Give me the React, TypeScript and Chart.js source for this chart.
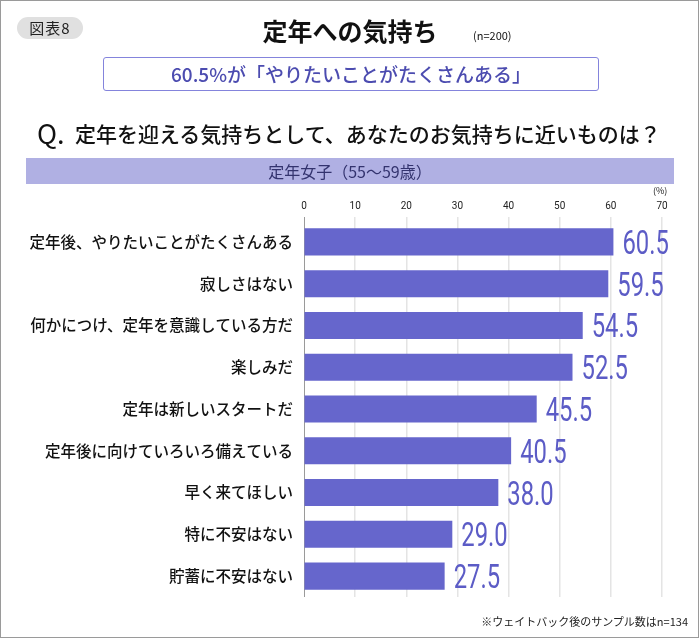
import React, { useEffect, useRef } from "react";
import { Chart, registerables } from "chart.js";

Chart.register(...registerables);

const categories = [
  "定年後、やりたいことがたくさんある",
  "寂しさはない",
  "何かにつけ、定年を意識している方だ",
  "楽しみだ",
  "定年は新しいスタートだ",
  "定年後に向けていろいろ備えている",
  "早く来てほしい",
  "特に不安はない",
  "貯蓄に不安はない",
];
const values = [60.5, 59.5, 54.5, 52.5, 45.5, 40.5, 38.0, 29.0, 27.5];
const xTicks = [0, 10, 20, 30, 40, 50, 60, 70];

const title = "定年への気持ち";
const sampleNote = "(n=200)";
const figLabel = "図表8";
const highlight = "60.5%が「やりたいことがたくさんある」";
const question = "定年を迎える気持ちとして、あなたのお気持ちに近いものは？";
const bandLabel = "定年女子（55～59歳）";
const unitLabel = "(%)";
const footer = "※ウェイトバック後のサンプル数はn=134";

const JP = "'Noto Sans CJK JP', 'Noto Sans', sans-serif";
const BAR = "#6666cc";
const LABEL = "#5c5cc6";

const valueLabels = {
  id: "valueLabels",
  afterDatasetsDraw(chart: any) {
    const ctx = chart.ctx;
    const meta = chart.getDatasetMeta(0);
    meta.data.forEach((bar: any, i: number) => {
      const v = chart.data.datasets[0].data[i] as number;
      ctx.save();
      ctx.translate(bar.x + 9, bar.y + 12);
      ctx.scale(0.7, 1);
      ctx.font = "400 34px Roboto, 'Liberation Sans', sans-serif";
      ctx.fillStyle = LABEL;
      ctx.textAlign = "left";
      ctx.textBaseline = "alphabetic";
      ctx.fillText(v.toFixed(1), 0, 0);
      ctx.restore();
    });
  },
};

export default function App() {
  const ref = useRef<HTMLCanvasElement>(null);
  useEffect(() => {
    if (!ref.current) return;
    const chart = new Chart(ref.current, {
      type: "bar",
      data: {
        labels: categories,
        datasets: [
          {
            data: values,
            backgroundColor: BAR,
            barPercentage: 0.9,
            categoryPercentage: 0.72,
          },
        ],
      },
      options: {
        indexAxis: "y",
        animation: false,
        responsive: false,
        maintainAspectRatio: false,
        layout: { padding: { left: 0, right: 38, top: 180, bottom: 42 } },
        plugins: { legend: { display: false }, tooltip: { enabled: false } },
        scales: {
          x: {
            position: "top",
            min: 0,
            max: 70,
            afterBuildTicks: (s: any) => {
              s.ticks = xTicks.map((v) => ({ value: v }));
            },
            afterFit: (s: any) => {
              s.height = 41;
            },
            ticks: {
              font: { family: "Roboto, 'Liberation Sans', sans-serif", size: 10 },
              color: "#222",
              padding: 5,
            },
            grid: {
              color: (c: any) => (c.tick && c.tick.value === 0 ? "#9a9a9a" : "#e4e4e4"),
              lineWidth: (c: any) => (c.tick && c.tick.value === 0 ? 1 : 1.5),
              drawTicks: true,
              tickLength: 4,
            },
            border: { display: false },
          },
          y: {
            afterFit: (s: any) => {
              s.width = 304;
            },
            ticks: {
              font: { family: JP, size: 15.5, weight: "500" },
              color: "#111",
              padding: 11,
            },
            grid: { display: false, drawTicks: false },
            border: { display: false },
          },
        },
      },
      plugins: [valueLabels],
    });
    return () => chart.destroy();
  }, []);

  const abs = (s: React.CSSProperties): React.CSSProperties => ({
    position: "absolute",
    whiteSpace: "nowrap",
    fontFamily: JP,
    ...s,
  });

  return (
    <div
      style={{
        position: "absolute",
        left: 0,
        top: 0,
        width: 700,
        height: 639,
        background: "#fff",
        overflow: "hidden",
      }}
    >
      <canvas ref={ref} width={700} height={639} style={{ position: "absolute", left: 0, top: 0 }} />
      <div
        style={{
          position: "absolute",
          left: 0,
          top: 0,
          width: 699,
          height: 638,
          border: "1px solid #9a9a9a",
          boxSizing: "border-box",
          pointerEvents: "none",
        }}
      />
      <div
        style={abs({
          left: 17,
          top: 17,
          width: 66,
          height: 22,
          borderRadius: 11,
          background: "#e0e0e0",
          fontSize: 15,
          letterSpacing: 1,
          lineHeight: "22px",
          textAlign: "center",
          color: "#222",
        })}
      >
        {figLabel}
      </div>
      <div
        style={abs({
          left: 200,
          width: 300,
          top: 13,
          fontSize: 25,
          lineHeight: "34px",
          fontWeight: 700,
          textAlign: "center",
          color: "#111",
        })}
      >
        {title}
      </div>
      <div style={abs({ left: 473, top: 27, fontSize: 11, lineHeight: "16px", color: "#111" })}>
        {sampleNote}
      </div>
      <div
        style={abs({
          left: 103,
          top: 57,
          width: 496,
          height: 34,
          border: "1px solid #8484dc",
          borderRadius: 3,
          boxSizing: "border-box",
          textAlign: "center",
          fontSize: 19,
          lineHeight: "31px",
          fontWeight: 500,
          color: "#4c4cb0",
        })}
      >
        {highlight}
      </div>
      <div style={abs({ left: 37, top: 115, fontSize: 27, lineHeight: "36px", color: "#111" })}>
        Q.
      </div>
      <div
        style={abs({
          left: 75,
          top: 118,
          fontSize: 21,
          lineHeight: "30px",
          fontWeight: 500,
          color: "#111",
        })}
      >
        {question}
      </div>
      <div
        style={abs({
          left: 26,
          top: 158,
          width: 648,
          height: 26,
          background: "#b0b0e3",
          textAlign: "center",
          fontSize: 16,
          lineHeight: "26px",
          color: "#33336e",
        })}
      >
        {bandLabel}
      </div>
      <div style={abs({ left: 653, top: 185, fontSize: 9, lineHeight: "12px", color: "#222" })}>
        {unitLabel}
      </div>
      <div
        style={abs({
          right: 12,
          top: 613,
          fontSize: 11,
          lineHeight: "16px",
          color: "#222",
        })}
      >
        {footer}
      </div>
    </div>
  );
}
